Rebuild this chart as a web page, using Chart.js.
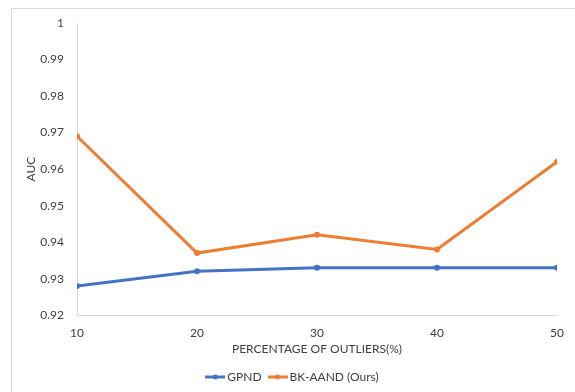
<!DOCTYPE html>
<html>
<head>
<meta charset="utf-8">
<script src="https://cdn.jsdelivr.net/npm/chart.js@4/dist/chart.umd.min.js"></script>
<style>
    body { margin: 0; background: #fff; }
    #wrap { position: relative; width: 575px; height: 392px; overflow: hidden; }
    #frame { position: absolute; left: 11px; top: 8px; width: 700px; height: 500px; border: 1px solid #d9d9d9; }
    canvas { position: absolute; left: 0; top: 0; }
</style>
</head>
<body>
<div id="wrap">
    <div id="frame"></div>
    <canvas id="chart" width="575" height="392"></canvas>
</div>
<script>
// outlier percentages on the x axis
const outliers = [10, 20, 30, 40, 50];
// AUC for each method
const gpnd = [0.928, 0.932, 0.933, 0.933, 0.933];
const bkAand = [0.969, 0.937, 0.942, 0.938, 0.962];

const blue = '#4472c4';
const orange = '#ed7d31';

// little line-with-dot marker for the legend, like the excel one
function legendMarker(color) {
    const c = document.createElement('canvas');
    c.width = 20;
    c.height = 8;
    const ctx = c.getContext('2d');
    ctx.strokeStyle = color;
    ctx.lineWidth = 3;
    ctx.beginPath();
    ctx.moveTo(0, 4);
    ctx.lineTo(20, 4);
    ctx.stroke();
    ctx.fillStyle = color;
    ctx.beginPath();
    ctx.arc(10, 4, 2.5, 0, Math.PI * 2);
    ctx.fill();
    return c;
}

Chart.defaults.font.family = 'Lato, "Open Sans", sans-serif';
Chart.defaults.font.size = 12;
Chart.defaults.color = '#404040';

new Chart(document.querySelector('#chart').getContext('2d'), {
    type: 'line',
    data: {
        datasets: [
            {
                label: 'GPND',
                data: outliers.map((x, i) => ({ x: x, y: gpnd[i] })),
                borderColor: blue,
                backgroundColor: blue,
                borderWidth: 3,
                pointRadius: 3,
                pointBorderWidth: 0,
                pointStyle: 'circle'
            },
            {
                label: 'BK-AAND (Ours)',
                data: outliers.map((x, i) => ({ x: x, y: bkAand[i] })),
                borderColor: orange,
                backgroundColor: orange,
                borderWidth: 3,
                pointRadius: 3,
                pointBorderWidth: 0,
                pointStyle: 'circle'
            }
        ]
    },
    options: {
        responsive: false,
        animation: false,
        layout: { padding: { left: 20, right: 7, top: 23, bottom: -1 } },
        elements: { line: { tension: 0 } },
        scales: {
            x: {
                type: 'linear',
                min: 10,
                max: 50,
                grid: { display: false, drawTicks: false },
                border: { display: true, color: '#d9d9d9', width: 1 },
                ticks: { stepSize: 10, padding: 11, color: '#404040' },
                title: {
                    display: true,
                    text: 'PERCENTAGE OF OUTLIERS(%)',
                    color: '#404040',
                    padding: { top: -10, bottom: 5 }
                }
            },
            y: {
                min: 0.92,
                max: 1,
                grid: { display: false, drawTicks: false },
                border: { display: true, color: '#d9d9d9', width: 1 },
                ticks: {
                    stepSize: 0.01,
                    padding: 13,
                    color: '#404040',
                    callback: v => parseFloat(v.toFixed(2)).toString()
                },
                title: { display: true, text: 'AUC', color: '#404040' },
                afterFit: scale => { scale.width = 57; }
            }
        },
        plugins: {
            legend: {
                position: 'bottom',
                labels: {
                    usePointStyle: true,
                    padding: 10,
                    color: '#404040',
                    generateLabels: chart => chart.data.datasets.map((ds, i) => ({
                        text: ds.label,
                        pointStyle: legendMarker(ds.borderColor),
                        fillStyle: ds.borderColor,
                        strokeStyle: ds.borderColor,
                        lineWidth: 0,
                        datasetIndex: i,
                        fontColor: '#404040'
                    }))
                }
            },
            tooltip: { enabled: false }
        }
    }
});
</script>
</body>
</html>
